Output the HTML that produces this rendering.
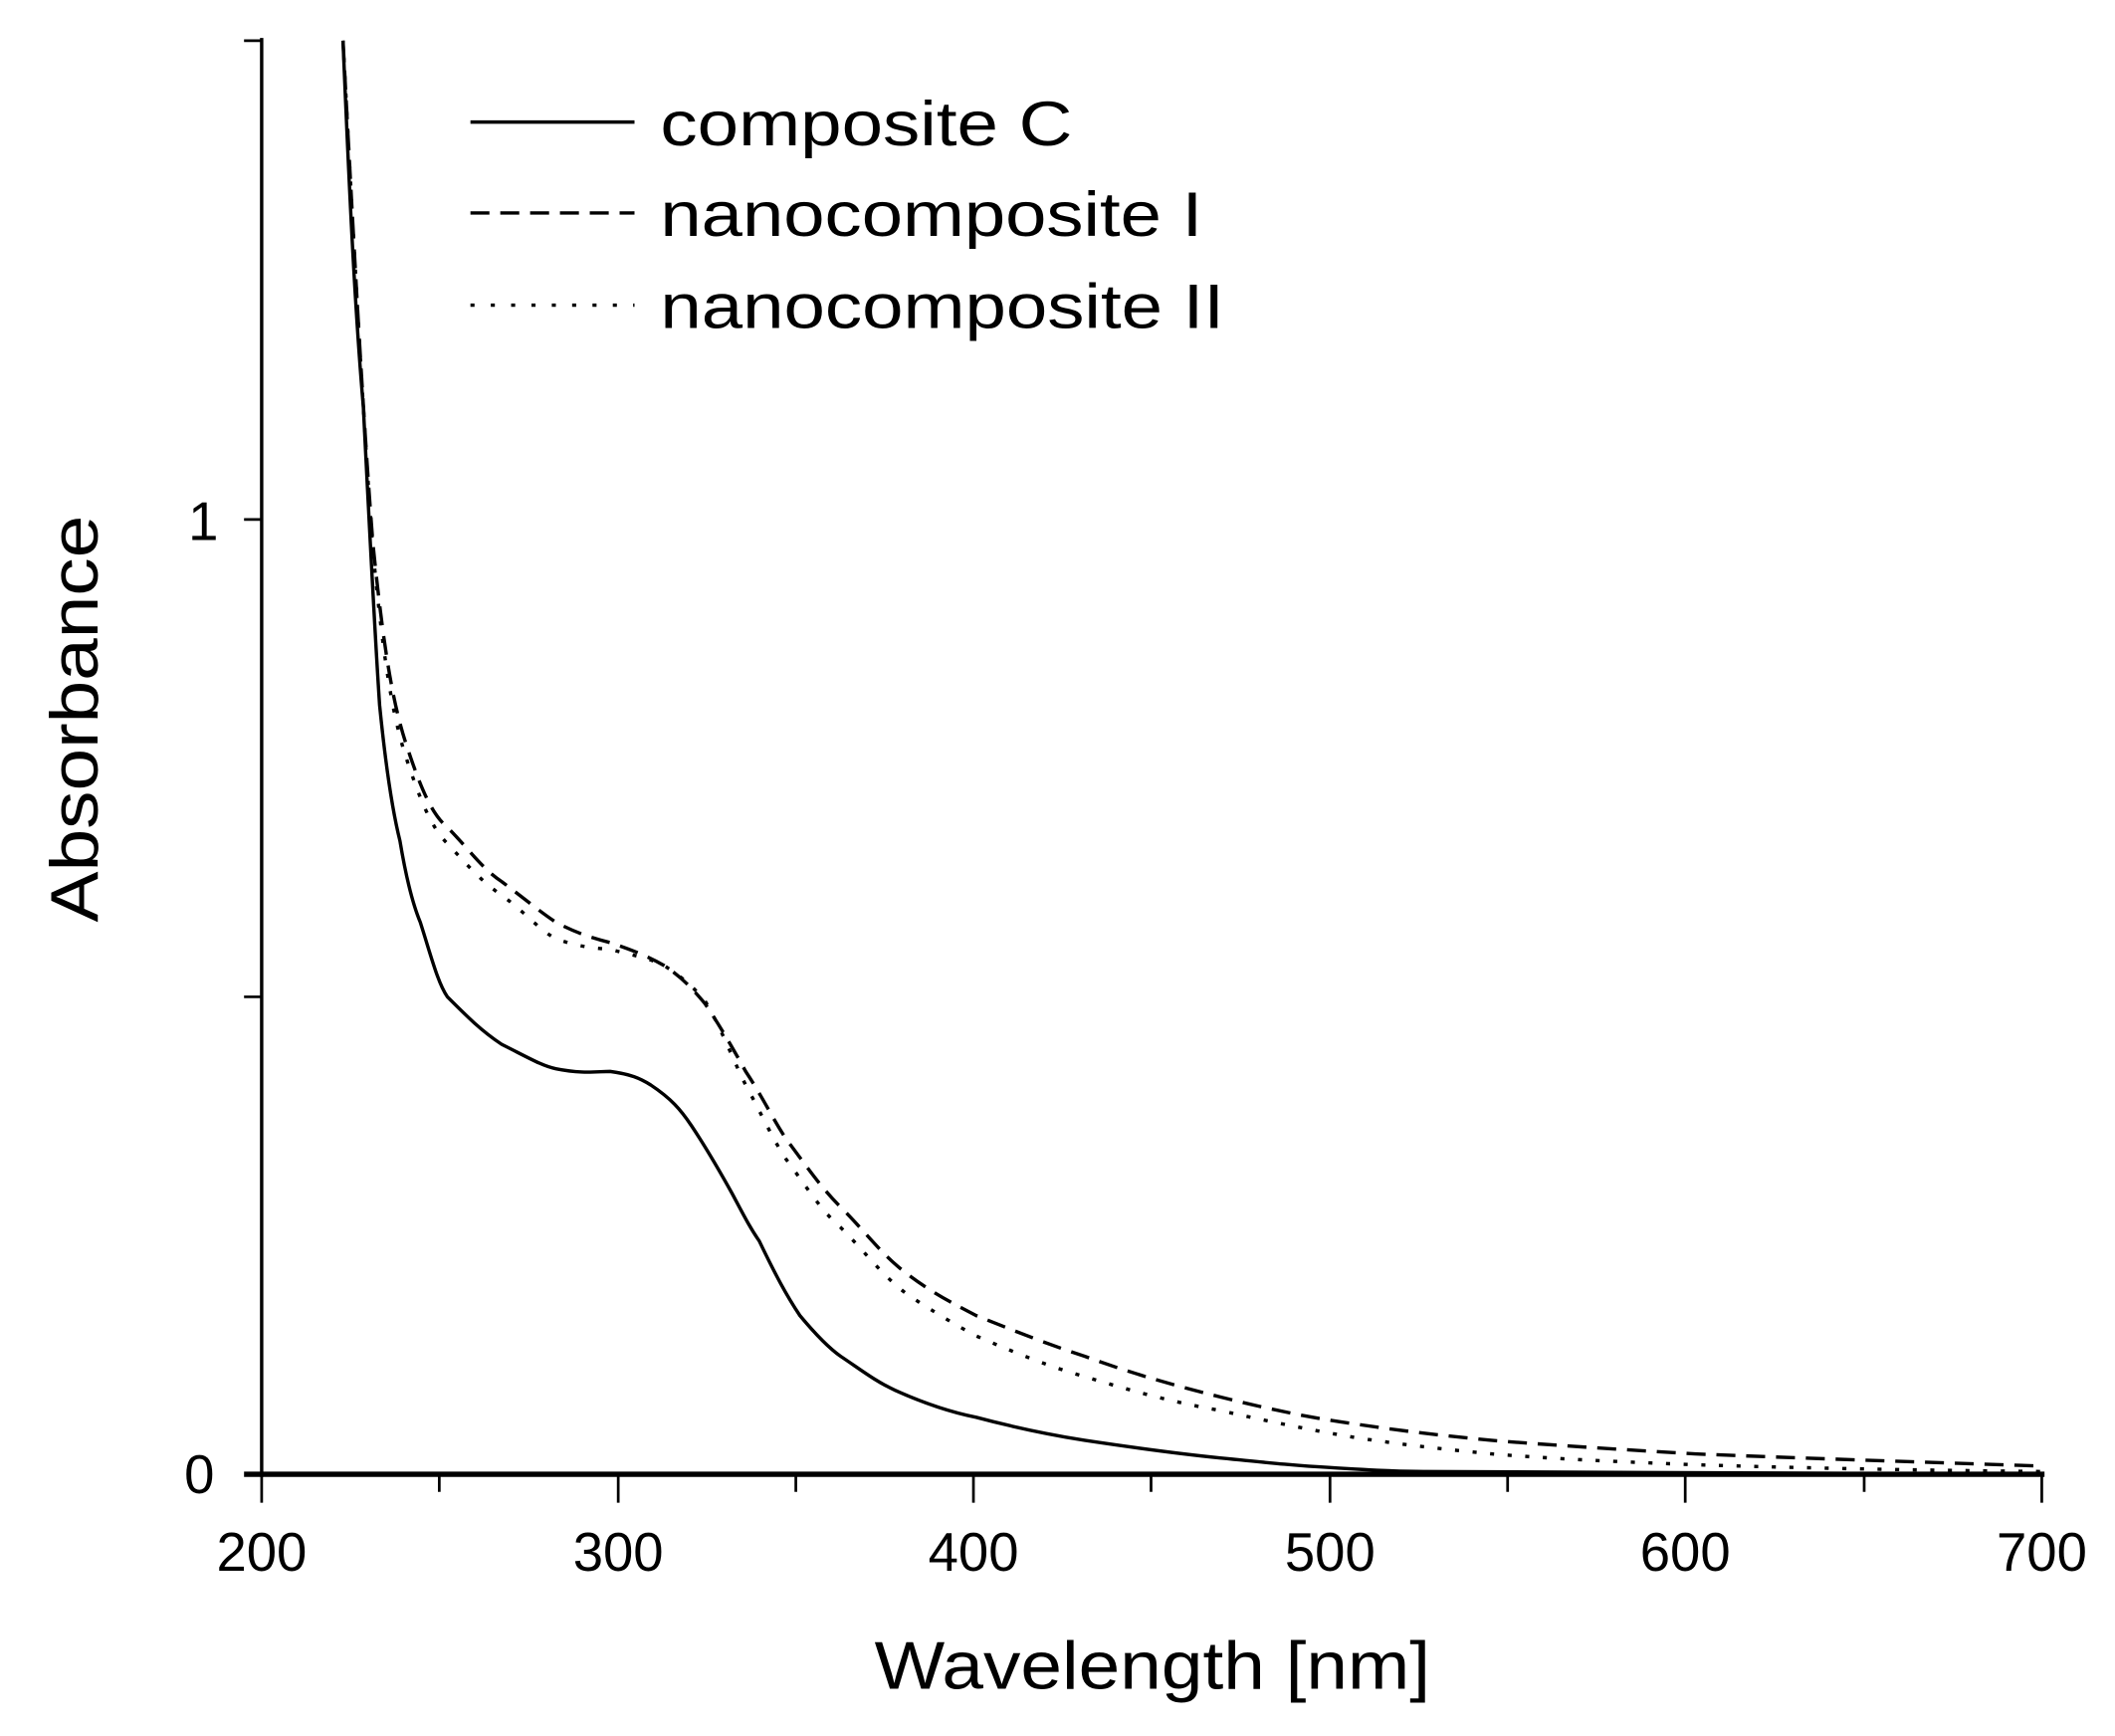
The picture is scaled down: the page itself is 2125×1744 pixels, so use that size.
<!DOCTYPE html>
<html><head><style>html,body{margin:0;padding:0;background:#fff}svg{display:block}</style></head>
<body>
<svg width="2125" height="1744" viewBox="0 0 1560 1280" preserveAspectRatio="none" xmlns="http://www.w3.org/2000/svg" font-family="Liberation Sans, Arial, sans-serif">
<rect width="1560" height="1280" fill="#fff"/>
<!-- axes -->
<line x1="193" y1="28" x2="193" y2="1089" stroke="#000" stroke-width="2.5"/>
<line x1="180" y1="1087" x2="1508" y2="1087" stroke="#000" stroke-width="4"/>
<g stroke="#000" stroke-width="2">
<line x1="180" y1="30" x2="193" y2="30"/>
<line x1="180" y1="383" x2="193" y2="383"/>
<line x1="180" y1="735" x2="193" y2="735"/>
<line x1="193" y1="1087" x2="193" y2="1108"/>
<line x1="324" y1="1087" x2="324" y2="1100"/>
<line x1="456" y1="1087" x2="456" y2="1108"/>
<line x1="587" y1="1087" x2="587" y2="1100"/>
<line x1="718" y1="1087" x2="718" y2="1108"/>
<line x1="849" y1="1087" x2="849" y2="1100"/>
<line x1="981" y1="1087" x2="981" y2="1108"/>
<line x1="1112" y1="1087" x2="1112" y2="1100"/>
<line x1="1243" y1="1087" x2="1243" y2="1108"/>
<line x1="1375" y1="1087" x2="1375" y2="1100"/>
<line x1="1506" y1="1087" x2="1506" y2="1108"/>
</g>
<g font-size="40" text-anchor="middle" fill="#000">
<text x="193" y="1158">200</text><text x="456" y="1158">300</text><text x="718" y="1158">400</text>
<text x="981" y="1158">500</text><text x="1243" y="1158">600</text><text x="1506" y="1158">700</text>
<text x="147" y="1101">0</text><text x="150" y="398">1</text>
</g>
<text x="850" y="1245" font-size="50" text-anchor="middle" textLength="410" lengthAdjust="spacingAndGlyphs">Wavelength [nm]</text>
<text transform="translate(72,530) rotate(-90)" font-size="50" text-anchor="middle" textLength="300" lengthAdjust="spacingAndGlyphs">Absorbance</text>
<!-- legend -->
<g stroke="#000" stroke-width="2.5" fill="none">
<line x1="347" y1="90" x2="468" y2="90"/>
<line x1="347" y1="157" x2="468" y2="157" stroke-dasharray="14,8"/>
<line x1="347" y1="225" x2="468" y2="225" stroke-dasharray="3,12"/>
</g>
<g font-size="46" fill="#000">
<text x="487" y="107" textLength="304" lengthAdjust="spacingAndGlyphs">composite C</text>
<text x="487" y="174" textLength="400" lengthAdjust="spacingAndGlyphs">nanocomposite I</text>
<text x="487" y="242" textLength="416" lengthAdjust="spacingAndGlyphs">nanocomposite II</text>
</g>
<!-- curves -->
<g fill="none" stroke="#000" stroke-width="2.5" stroke-linejoin="round">
<path d="M253,30 C258,150 262,230 268,300 C272,380 276,460 280,520 C285,570 290,600 295,620 C300,650 305,668 310,680 C318,705 323,725 330,735 C345,750 355,760 370,770 C390,780 400,786 410,788 C430,792 440,790 450,790 C465,792 472,795 480,800 C495,810 502,818 510,830 C520,845 530,862 540,880 C548,895 553,905 560,915 C572,940 580,955 590,970 C600,982 610,993 620,1000 C635,1010 645,1018 660,1025 C680,1034 700,1041 720,1045 C750,1053 775,1058 800,1062 C840,1068 870,1072 900,1075 C940,1079 960,1081 980,1082 C1010,1084 1030,1085 1050,1085 C1200,1087 1350,1087 1506,1087"/>
<path stroke-dasharray="14,8" d="M253,30 C262,200 268,310 275,400 C283,480 290,520 300,550 C310,580 318,600 330,610 C345,625 355,640 370,650 C390,665 398,672 410,680 C425,688 438,692 450,695 C465,700 478,705 490,712 C502,720 510,728 520,740 C532,758 540,772 550,790 C562,808 570,825 580,840 C595,860 605,875 620,890 C640,910 650,925 670,940 C690,955 705,962 720,970 C750,982 775,992 800,1000 C830,1011 860,1020 900,1030 C940,1040 970,1046 1000,1050 C1040,1056 1070,1059 1100,1062 C1150,1066 1200,1069 1250,1072 C1350,1076 1420,1078 1506,1081"/>
<path stroke-dasharray="3,10" d="M253,30 C262,200 268,310 275,405 C283,490 290,530 300,560 C310,590 318,610 330,622 C345,638 355,650 370,660 C390,675 398,686 410,692 C425,698 438,699 450,700 C465,704 478,706 490,712 C502,720 510,726 520,738 C532,758 540,780 550,800 C562,822 570,840 580,855 C595,875 605,892 620,905 C640,925 650,940 670,955 C690,968 705,977 720,985 C750,998 775,1008 800,1015 C830,1024 860,1033 900,1040 C940,1049 970,1055 1000,1060 C1040,1066 1070,1069 1100,1072 C1150,1076 1200,1078 1250,1080 C1350,1083 1420,1084 1506,1085"/>
</g>
</svg>
</body></html>
